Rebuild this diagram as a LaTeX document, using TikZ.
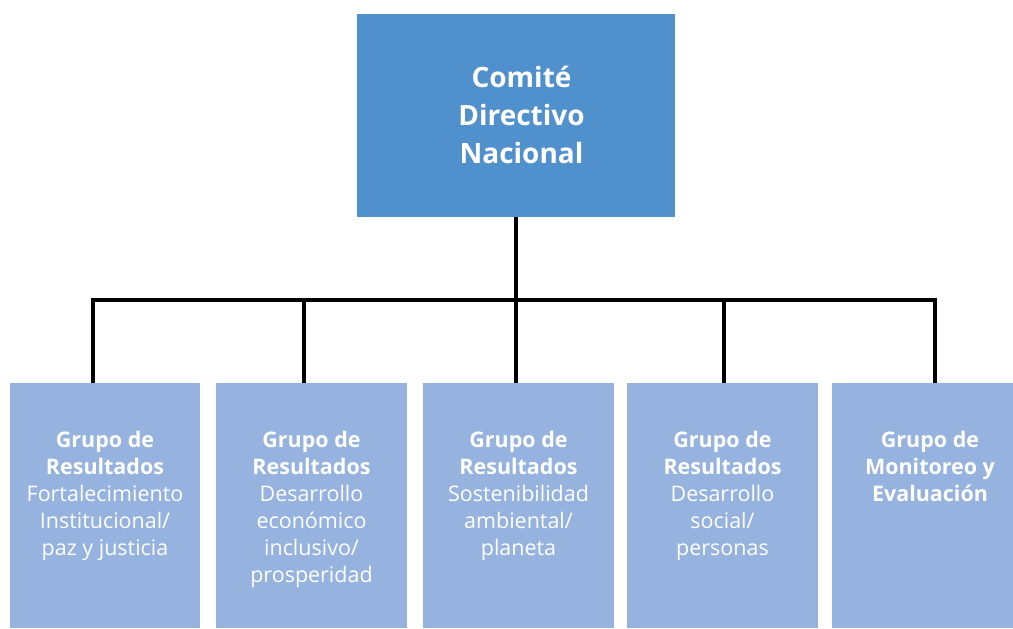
\documentclass[tikz,border=0pt]{standalone}
\usepackage{fontspec}
\setmainfont{Open Sans}
\definecolor{topblue}{HTML}{4F90CD}
\definecolor{boxblue}{HTML}{95B3DE}
\begin{document}
\begin{tikzpicture}[x=0.75pt,y=-0.75pt,
  topbox/.style={draw=none,fill=topblue,inner sep=0pt,minimum width=318*0.75pt,minimum height=203*0.75pt},
  grpbox/.style={draw=none,fill=boxblue,inner sep=0pt,anchor=north west,minimum height=245*0.75pt},
  toptext/.style={text=white,align=center,inner sep=0pt,font=\fontsize{21}{28.3}\selectfont\bfseries},
  grptext/.style={text=white,align=center,inner sep=0pt,anchor=base,font=\fontsize{16.1}{20.25}\selectfont},
  conn/.style={draw=black,line width=3.5pt,line join=miter,line cap=butt}]
\useasboundingbox (0,0) rectangle (1013,628);
\node[topbox] (cdn) at (516,115.5) {};
\node[toptext] (cdnt) at (521.5,115) {Comité\\Directivo\\Nacional};
\node[grpbox,minimum width=190*0.75pt] (g1) at (10,383) {};
\node[grpbox,minimum width=191*0.75pt] (g2) at (216,383) {};
\node[grpbox,minimum width=191*0.75pt] (g3) at (423,383) {};
\node[grpbox,minimum width=191*0.75pt] (g4) at (627,383) {};
\node[grpbox,minimum width=195*0.75pt] (g5) at (832,383) {};
\node[grptext] (g1t) at (105,555) {\textbf{Grupo de}\\\textbf{Resultados}\\Fortalecimiento\\Institucional/\\paz y justicia};
\node[grptext] (g2t) at (311.5,582) {\textbf{Grupo de}\\\textbf{Resultados}\\Desarrollo\\económico\\inclusivo/\\prosperidad};
\node[grptext] (g3t) at (518.5,555) {\textbf{Grupo de}\\\textbf{Resultados}\\Sostenibilidad\\ambiental/\\planeta};
\node[grptext] (g4t) at (722.5,555) {\textbf{Grupo de}\\\textbf{Resultados}\\Desarrollo\\social/\\personas};
\node[grptext] (g5t) at (930,501) {\textbf{Grupo de}\\\textbf{Monitoreo y}\\\textbf{Evaluación}};
\coordinate (b1) at (93,300);
\coordinate (b2) at (304,300);
\coordinate (b3) at (516,300);
\coordinate (b4) at (724,300);
\coordinate (b5) at (935,300);
\draw[conn] (cdn.south) -- (b3);
\draw[conn] (b1 |- g1.north) -- (b1) -- (b5) -- (b5 |- g5.north);
\draw[conn] (b2) -- (b2 |- g2.north);
\draw[conn] (b3) -- (b3 |- g3.north);
\draw[conn] (b4) -- (b4 |- g4.north);
\end{tikzpicture}
\end{document}
